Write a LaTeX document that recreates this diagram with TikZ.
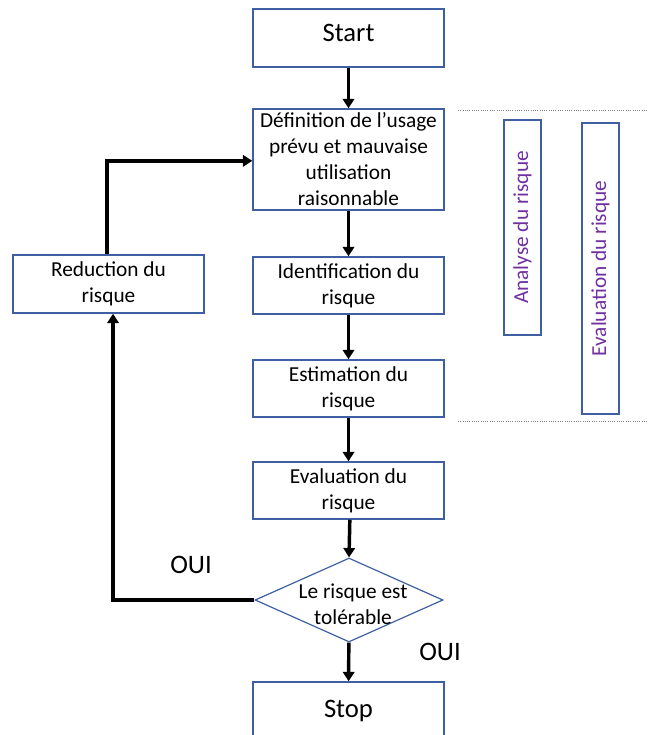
\documentclass[tikz,border=0pt]{standalone}
\usepackage{fontspec}
\setmainfont{Carlito}
\usetikzlibrary{shapes.geometric,arrows.meta}
\definecolor{boxblue}{RGB}{62,96,163}
\definecolor{phasepurple}{RGB}{112,48,160}

\begin{document}
\begin{tikzpicture}[x=0.75pt, y=-0.75pt,
		stepbox/.style={draw=boxblue, line width=1.1pt, rectangle, minimum width=143.25pt,
			minimum height=42.75pt, inner sep=0pt, align=center, font=\fontsize{16}{19.5}\selectfont},
		bigtext/.style={font=\fontsize{20}{24}\selectfont},
		decision/.style={draw=boxblue, line width=0.9pt, diamond, minimum width=141pt,
			minimum height=63pt, inner sep=0pt},
		phase/.style={draw=boxblue, line width=1.1pt, rectangle, rotate=90, minimum height=27.75pt,
			inner sep=0pt, text=phasepurple, font=\fontsize{16}{19.5}\selectfont},
		flow/.style={line width=2.6pt, -{Triangle[length=7pt,width=8.5pt]}},
		limit/.style={densely dotted, gray, line width=0.7pt}]
				\useasboundingbox (0,0) rectangle (648,735);
				\node[stepbox, bigtext, minimum height=43.5pt, text depth=7pt] (start) at (348.5,38) {Start};
				\node[stepbox, minimum height=75.75pt] (def) at (348.5,159.5)
				{Définition de l’usage\\prévu et mauvaise\\utilisation\\raisonnable};
				\node[stepbox] (ident) at (348.5,285.5) {Identification du\\risque};
				\node[stepbox] (estim) at (348.5,388.5) {Estimation du\\risque};
				\node[stepbox] (eval) at (348.5,490.5) {Evaluation du\\risque};
				\node[decision, label={[align=center, font=\fontsize{16}{19.5}\selectfont,
					xshift=3pt, yshift=-3pt]center:Le risque est\\tolérable}] (risk) at (349,600) {};
				\node[stepbox, bigtext, minimum height=43.5pt] (stop) at (348.5,711) {Stop};
				\node[stepbox, minimum height=43.5pt] (reduc) at (108.5,284) {Reduction du\\risque};
				\node[phase, minimum width=161.25pt] (analyse) at (522.5,227.5) {Analyse du risque};
				\node[phase, minimum width=218.25pt] (evalphase) at (600.5,268.5) {Evaluation du risque};
				\node[bigtext] (ouiloop) at (191,565) {OUI};
				\node[bigtext] (ouistop) at (440,652) {OUI};
				\draw[limit] (458,110) -- (648,110);
				\draw[limit] (458,421) -- (648,421);
				\draw[flow] (start) -- (def);
				\draw[flow] (def) -- (ident);
				\draw[flow] (ident) -- (estim);
				\draw[flow] (estim) -- (eval);
				\draw[flow] ([xshift=1pt]eval.south) -- (risk.north);
				\draw[flow] (risk) -- (stop);
				\draw[flow] (risk.west) -| ([xshift=3.4pt]reduc.south);
				\draw[flow] ([xshift=-1pt]reduc.north) |- ([yshift=-1pt]def.west);
			\end{tikzpicture}
\end{document}
